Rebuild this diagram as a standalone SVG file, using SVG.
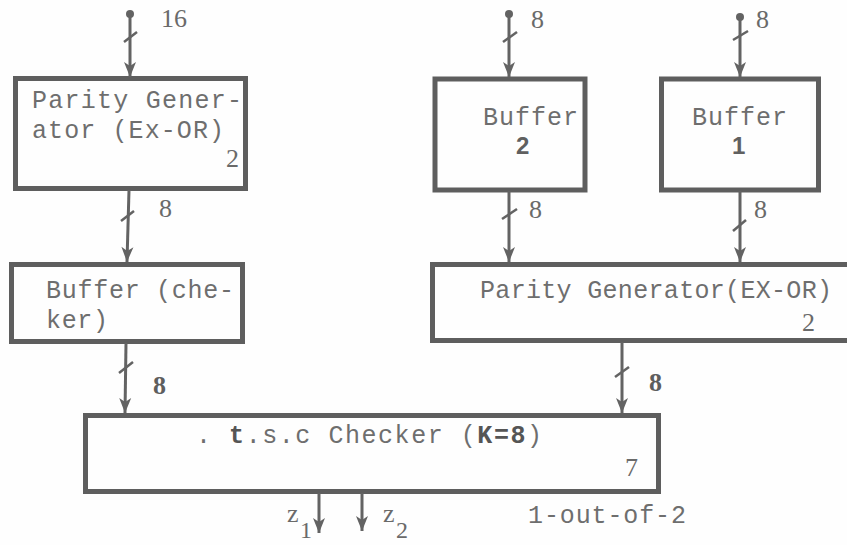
<svg xmlns="http://www.w3.org/2000/svg" width="847" height="545" viewBox="0 0 847 545">
<style>
.box{fill:none;stroke:#5e5e5e;stroke-width:5;stroke-linejoin:miter}
.t{font-family:"Liberation Mono","Courier New",monospace;font-size:25px;fill:#6e6e6e}
.n{font-family:"Liberation Serif","Times New Roman",serif;font-size:26px;fill:#6a6a6a}
.sub{font-family:"Liberation Serif","Times New Roman",serif;font-size:24px;fill:#6a6a6a}
.b{font-family:"Liberation Sans",Arial,sans-serif;font-size:24px;font-weight:bold;fill:#606060}
.bn{font-family:"Liberation Serif","Times New Roman",serif;font-size:26px;font-weight:bold;fill:#5e5e5e}
.s{stroke:#636363;stroke-width:2.5;fill:none}
.a{stroke:#636363;stroke-width:3;fill:none;marker-end:url(#ah)}
</style>
<defs>
<marker id="ah" markerUnits="userSpaceOnUse" markerWidth="20" markerHeight="16" viewBox="-1 -8 18 16" refX="15" refY="0" orient="auto">
<path d="M0,-6 L15,0 L0,6 L4,0 z" fill="#636363"/>
</marker>
</defs>
<rect width="847" height="545" fill="#fefefe"/>

<g id="pg-left">
<rect class="box" x="15.5" y="78.5" width="230" height="110"/>
<text class="t" x="32" y="108" textLength="210" lengthAdjust="spacing">Parity Gener-</text>
<text class="t" x="32" y="138" textLength="192" lengthAdjust="spacing">ator (Ex-OR)</text>
<text class="n" x="226" y="167">2</text>
</g>

<g id="buffer-2">
<rect class="box" x="435" y="79" width="150" height="111"/>
<text class="t" x="483" y="125" textLength="95" lengthAdjust="spacing">Buffer</text>
<text class="b" x="516" y="154">2</text>
</g>

<g id="buffer-1">
<rect class="box" x="661.5" y="79" width="157" height="111"/>
<text class="t" x="692" y="125" textLength="95" lengthAdjust="spacing">Buffer</text>
<text class="b" x="732" y="154">1</text>
</g>

<g id="buffer-checker">
<rect class="box" x="11.5" y="264.5" width="231" height="77"/>
<text class="t" x="46" y="298" textLength="188" lengthAdjust="spacing">Buffer (che-</text>
<text class="t" x="46" y="328" textLength="62" lengthAdjust="spacing">ker)</text>
</g>

<g id="pg-right">
<rect class="box" x="432.5" y="264.5" width="430" height="76"/>
<text class="t" x="480" y="298" textLength="352" lengthAdjust="spacing">Parity Generator(EX-OR)</text>
<text class="n" x="802" y="331">2</text>
</g>

<g id="checker">
<rect class="box" x="85.5" y="415.5" width="573" height="76"/>
<text class="t" x="196" y="443" textLength="346" lengthAdjust="spacing">. <tspan font-weight="bold" fill="#555">t</tspan>.s.c  Checker (<tspan font-weight="bold" fill="#555">K=8</tspan>)</text>
<text class="n" x="625" y="476">7</text>
</g>

<g id="connectors">
<circle cx="130" cy="14" r="4" fill="#636363"/>
<line class="a" x1="130" y1="14" x2="130" y2="77"/>
<line class="s" x1="124" y1="42" x2="137" y2="32"/>
<circle cx="509" cy="14" r="4" fill="#636363"/>
<line class="a" x1="509" y1="14" x2="509" y2="77"/>
<line class="s" x1="503" y1="42" x2="517" y2="32"/>
<circle cx="740" cy="17" r="4" fill="#636363"/>
<line class="a" x1="740" y1="17" x2="740" y2="77"/>
<line class="s" x1="733" y1="40" x2="748" y2="31"/>

<line class="a" x1="129" y1="190" x2="127" y2="262"/>
<line class="s" x1="121" y1="221" x2="134" y2="211"/>
<line class="a" x1="509" y1="191" x2="509" y2="262"/>
<line class="s" x1="502" y1="219" x2="517" y2="209"/>
<line class="a" x1="740" y1="191" x2="740" y2="262"/>
<line class="s" x1="733" y1="231" x2="746" y2="220"/>

<line class="a" x1="126" y1="343" x2="125" y2="413"/>
<line class="s" x1="119" y1="373" x2="133" y2="362"/>
<line class="a" x1="622" y1="342" x2="622" y2="413"/>
<line class="s" x1="615" y1="377" x2="629" y2="367"/>

<line class="a" x1="319" y1="493" x2="319" y2="533"/>
<line class="a" x1="362" y1="493" x2="362" y2="531"/>
</g>

<g id="labels">
<text class="n" x="161" y="27">16</text>
<text class="n" x="531" y="28">8</text>
<text class="n" x="756" y="28">8</text>
<text class="n" x="159" y="217">8</text>
<text class="n" x="529" y="218">8</text>
<text class="n" x="754" y="218">8</text>
<text class="bn" x="153" y="394">8</text>
<text class="bn" x="649" y="391">8</text>
<text class="n" x="287" y="522">z</text>
<text class="sub" x="300" y="538">1</text>
<text class="n" x="383" y="522">z</text>
<text class="sub" x="396" y="538">2</text>
<text class="t" x="528" y="523" textLength="158" lengthAdjust="spacing">1-out-of-2</text>
</g>
</svg>
